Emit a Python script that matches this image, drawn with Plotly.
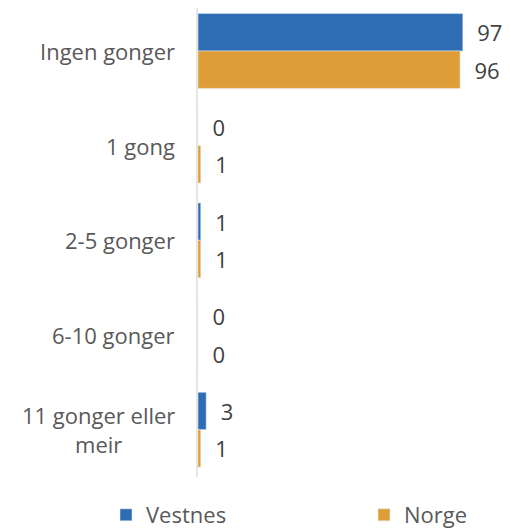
import plotly.graph_objects as go

categories = ["Ingen gonger", "1 gong", "2-5 gonger", "6-10 gonger", "11 gonger eller<br>meir"]
vestnes = [97, 0, 1, 0, 3]
norge = [96, 1, 1, 0, 1]

BLUE = "#2E6DB4"
ORANGE = "#DF9D37"
# the page body has an 8px margin, so the figure is drawn 8px smaller and shifted
W, H = 502, 524
ML, MR, MT, MB = 190, 4, 0, 55
PX_PER_UNIT = 2.73
plot_w = W - ML - MR
plot_h = H - MT - MB
FS = 22

fig = go.Figure()
fig.add_trace(go.Bar(y=categories, x=vestnes, name="Vestnes", orientation="h",
                     marker=dict(color=BLUE), text=["\u00a0\u00a0" + str(v) for v in vestnes],
                     textposition="outside", cliponaxis=False, legend="legend",
                     textfont=dict(color="#404040", size=FS)))
fig.add_trace(go.Bar(y=categories, x=norge, name="Norge", orientation="h",
                     marker=dict(color=ORANGE), text=["\u00a0\u00a0" + str(v) for v in norge],
                     textposition="outside", cliponaxis=False, legend="legend2",
                     textfont=dict(color="#404040", size=FS)))

for c in categories:
    fig.add_annotation(x=-(21 / plot_w), xref="paper", y=c, yref="y", text=c,
                       showarrow=False, xanchor="right", align="center",
                       font=dict(color="#595959", size=FS))

leg_common = dict(orientation="h", xanchor="left", y=-(H + 4 - plot_h) / plot_h,
                  yanchor="bottom", font=dict(size=FS, color="#595959"), itemwidth=30,
                  bgcolor="rgba(0,0,0,0)", borderwidth=0)

fig.update_layout(
    width=W, height=H,
    margin=dict(l=ML, r=MR, t=MT, b=MB, autoexpand=False),
    barmode="group", bargap=0.21, bargroupgap=0,
    plot_bgcolor="white", paper_bgcolor="white",
    font=dict(family="Open Sans", color="#595959", size=FS),
    xaxis=dict(range=[0, plot_w / PX_PER_UNIT], showgrid=False, showticklabels=False,
               zeroline=False, showline=False),
    yaxis=dict(range=[4.5, -0.454], showticklabels=False, showgrid=False,
               showline=True, linecolor="#E5E5E5", linewidth=2, zeroline=False, ticks=""),
    legend=dict(x=(98 - ML) / plot_w, **leg_common),
    legend2=dict(x=(356 - ML) / plot_w, **leg_common),
    showlegend=True,
)
fig.write_html("out.html")
